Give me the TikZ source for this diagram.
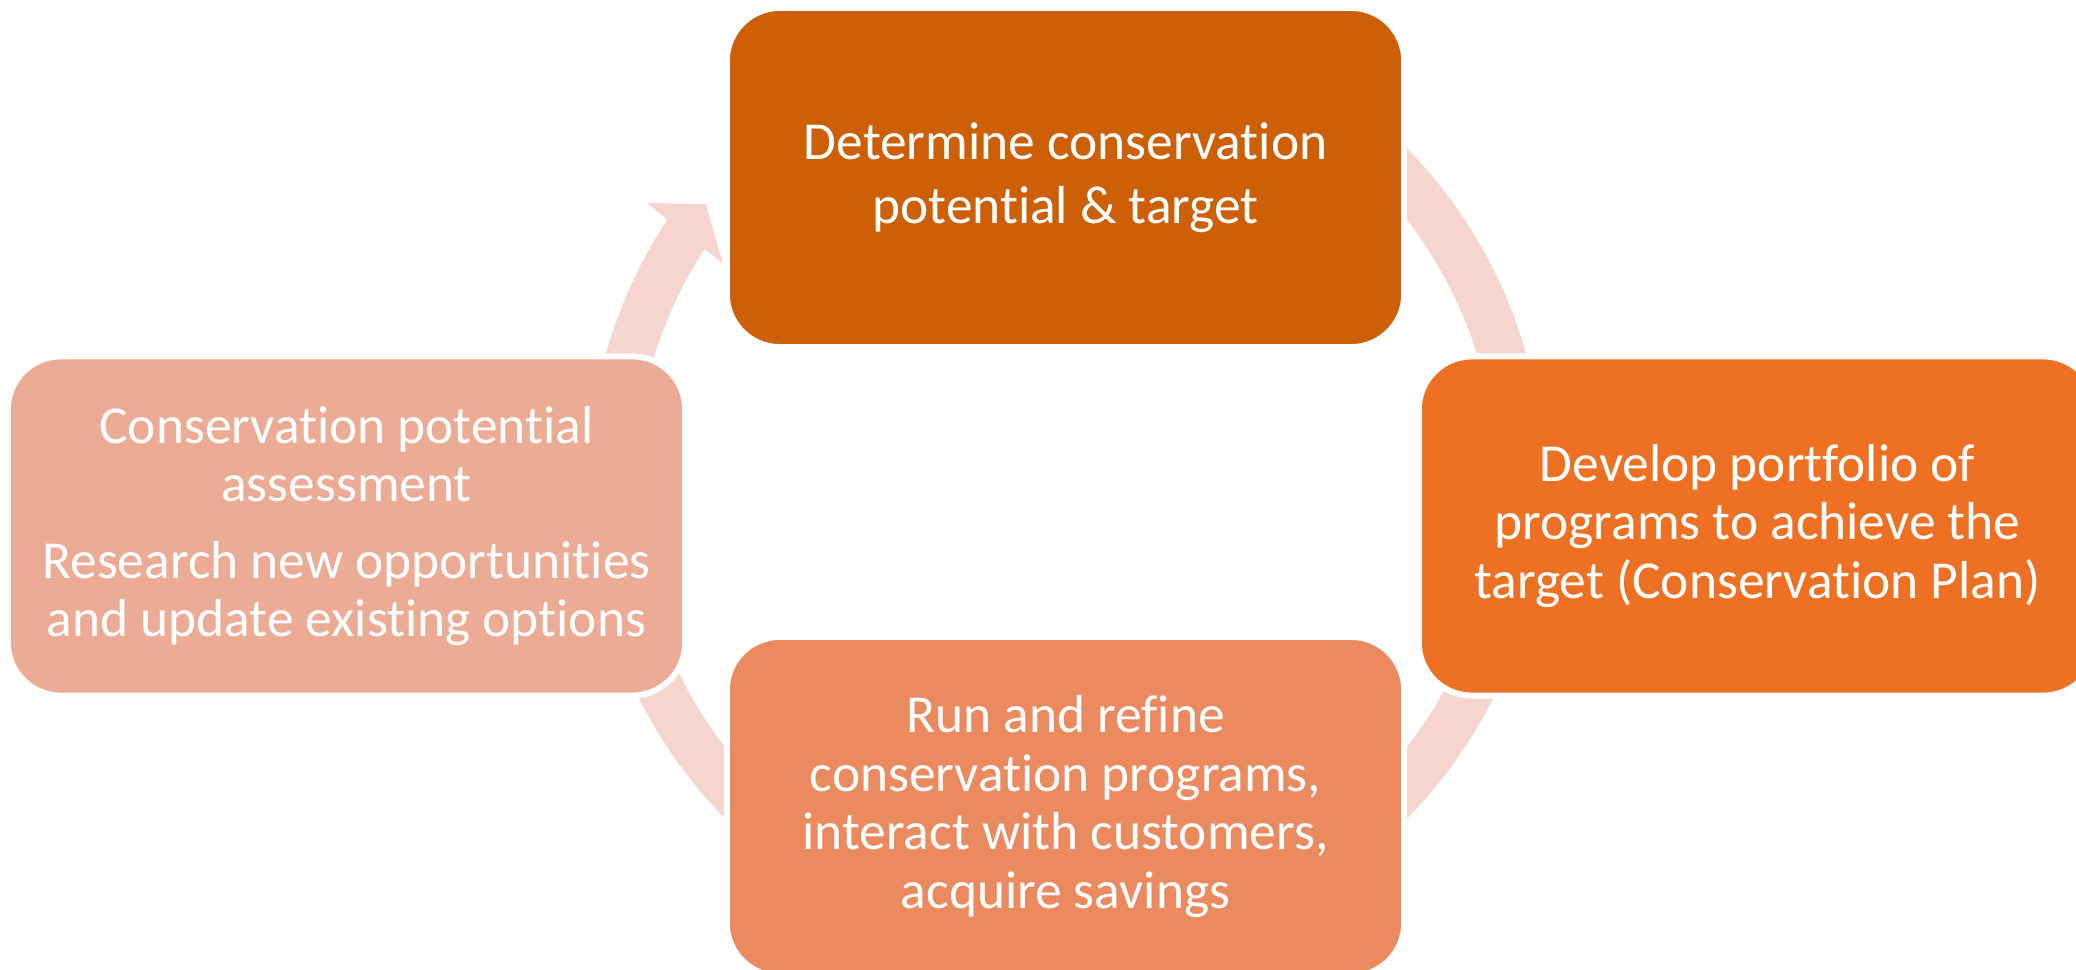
\documentclass[tikz,border=0pt]{standalone}
\usepackage{fontspec}
\setmainfont{Carlito}[Ligatures={NoCommon}]
\definecolor{stagetop}{HTML}{CD5F06}
\definecolor{stageright}{HTML}{ED7023}
\definecolor{stagebottom}{HTML}{EA8A5E}
\definecolor{stageleft}{HTML}{EBAB94}
\definecolor{arrowpink}{HTML}{F5D5CE}
\begin{document}
\begin{tikzpicture}[x=0.01cm, y=0.01cm,
  stage/.style={rectangle, rounded corners=0.53cm,
    minimum width=6.77cm, minimum height=3.39cm, inner sep=0pt,
    draw=white, line width=0.06cm, text=white, align=center,
    font=\fontsize{15.2pt}{16.6pt}\selectfont},
  cyclearrow/.style={fill=arrowpink, draw=none}]
\clip (0,0) rectangle (2076,969);
\fill[white] (0,0) rectangle (2076,969);
\coordinate (c) at (1066,485.5);
% curved block arrows on a common circle
\begin{scope}[shift={(c)}]
  \fill[cyclearrow] (48:478) arc[start angle=48, end angle=12, radius=478]
    -- (12:431) arc[start angle=12, end angle=48, radius=431] -- cycle;
  \fill[cyclearrow] (-12:478) arc[start angle=-12, end angle=-48, radius=478]
    -- (-48:431) arc[start angle=-48, end angle=-12, radius=431] -- cycle;
  \fill[cyclearrow] (230:478) arc[start angle=230, end angle=200, radius=478]
    -- (200:431) arc[start angle=200, end angle=230, radius=431] -- cycle;
  \fill[cyclearrow] (170:478) arc[start angle=170, end angle=146.5, radius=478]
    -- (146.2:504) -- (142.2:456) -- (147.3:408) -- (147:431)
    arc[start angle=147, end angle=170, radius=431] -- cycle;
\end{scope}
% process stages
\node[stage, fill=stagetop, font=\fontsize{15.2pt}{18.1pt}\selectfont]
  (determine) at (1065.5,791.5)
  {Determine conservation\\potential \& target};
\node[stage, fill=stageright] (develop) at (1757.5,443)
  {Develop portfolio of\\programs to achieve the\\target (Conservation Plan)};
\node[stage, fill=stagebottom] (run) at (1065.5,162.5)
  {Run and refine\\conservation programs,\\interact with customers,\\acquire savings};
\node[stage, fill=stageleft] (assess) at (346.5,443)
  {Conservation potential\\assessment\\[5.3pt]Research new opportunities\\and update existing options};
\end{tikzpicture}
\end{document}
